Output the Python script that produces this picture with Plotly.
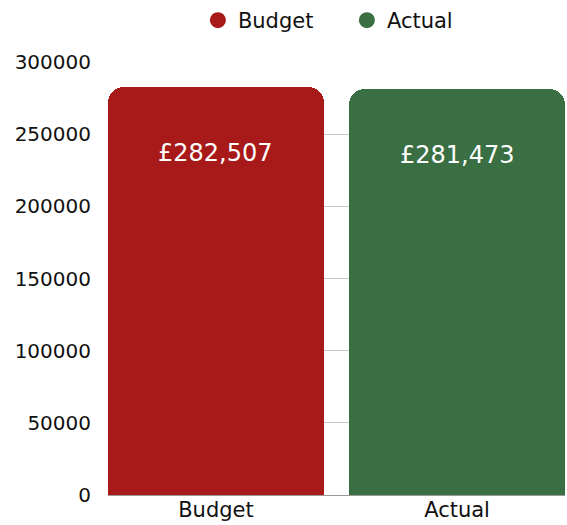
import plotly.graph_objects as go

categories = ["Budget", "Actual"]
values = [282507, 281473]
colors = ["#A81A19", "#3A6E43"]
y_ticks = [0, 50000, 100000, 150000, 200000, 250000, 300000]

FONT = "DejaVu Sans, sans-serif"

fig = go.Figure()
fig.add_trace(go.Bar(
    x=categories, y=values, width=0.896,
    marker=dict(color=colors, cornerradius=16, line=dict(width=0)),
    showlegend=False, hoverinfo="x+y",
))
for name, col in zip(categories, colors):
    fig.add_trace(go.Scatter(
        x=[None], y=[None], mode="markers", name=name,
        marker=dict(symbol="circle", size=16, color=col),
    ))

for c, v in zip(categories, values):
    fig.add_annotation(
        x=c, y=v, text=f"£{v:,}", showarrow=False,
        yanchor="top", yshift=-50,
        font=dict(family=FONT, size=24, color="white"),
    )

fig.update_layout(
    width=567, height=525,
    margin=dict(l=108, r=2, t=62, b=30),
    paper_bgcolor="white", plot_bgcolor="white",
    font=dict(family=FONT, size=18, color="#111111"),
    bargap=0,
    legend=dict(orientation="h", xref="container", x=0.349, xanchor="left",
                y=1.0, yanchor="top", yref="container", font=dict(size=21),
                itemsizing="trace", itemwidth=30, entrywidth=104,
                entrywidthmode="pixels", tracegroupgap=0),
    xaxis=dict(range=[-0.448, 1.448], showgrid=False, showline=False,
               ticks="", tickfont=dict(size=21)),
    yaxis=dict(range=[0, 300000], tickvals=y_ticks, tickformat="d",
               showgrid=True, gridcolor="#c8c8c8", gridwidth=1,
               zeroline=True, zerolinecolor="#9a9a9a", zerolinewidth=1,
               ticks="", ticklabelstandoff=16, tickfont=dict(size=20)),
)

fig.write_html("out.html")
